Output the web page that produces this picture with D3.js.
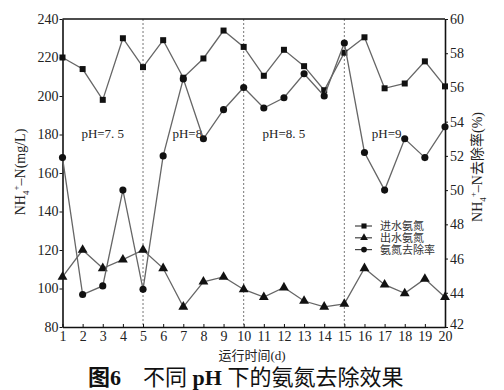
<!DOCTYPE html>
<html>
<head>
<meta charset="utf-8">
<script src="https://cdn.jsdelivr.net/npm/d3@7"></script>
<style>
  body { margin: 0; background: #fff; }
  text { font-family: "Liberation Serif", "DejaVu Serif", "Noto Sans CJK SC", serif; }
  .cjk { font-family: "Liberation Serif", "Noto Sans CJK SC", sans-serif; }
</style>
</head>
<body>
<div id="graphe"></div>
<script>
//----------------------------------------------------------------
//  Données
//----------------------------------------------------------------
var jours = d3.range(1, 21);
var entree = [220, 214, 198, 230, 215, 229, 209.5, 219.5, 234, 225.5, 210.5, 224, 215.5, 203, 222.5, 230.5, 204, 206.5, 218, 205];
var sortie = [106, 120, 110.5, 115, 120, 110.5, 90.5, 103.5, 106, 99.5, 95.5, 100.5, 93.5, 90.5, 92, 110.5, 102, 97.5, 105, 95.5];
var taux = [51.9, 43.9, 44.4, 50, 44.2, 52, 56.5, 53, 54.7, 56, 54.8, 55.4, 56.8, 55.5, 58.6, 52.2, 50, 53, 51.9, 53.7];
var ticksGauche = [80, 100, 120, 140, 160, 180, 200, 220, 240];
var ticksDroite = [42, 44, 46, 48, 50, 52, 54, 56, 58, 60];
var separations = [5, 10, 15];
var phLabels = [{t: "pH=7. 5", j: 3.0}, {t: "pH=8", j: 7.2}, {t: "pH=8. 5", j: 12.0}, {t: "pH=9", j: 17.1}];
var legende = ["进水氨氮", "出水氨氮", "氨氮去除率"];

//----------------------------------------------------------------
//  Création svg
//----------------------------------------------------------------
var largeurSvg = 504, hauteurSvg = 390;
var marges = {haut: 19, droite: 59, bas: 63, gauche: 62.5};
var largeur = largeurSvg - marges.gauche - marges.droite,
    hauteur = hauteurSvg - marges.haut - marges.bas;

var svg = d3.select("#graphe").append("svg")
    .attr("width", largeurSvg)
    .attr("height", hauteurSvg);
var g = svg.append("g")
    .attr("transform", "translate(" + marges.gauche + "," + marges.haut + ")");

var x = d3.scaleLinear().domain([1, 20]).range([0, largeur]);
var yG = d3.scaleLinear().domain([80, 240]).range([hauteur, 0]);
var yD = d3.scaleLinear().domain([42, 60]).range([hauteur, 0]);

// séparations pH
g.selectAll(".sep").data(separations).enter().append("line")
    .attr("x1", function(d) { return x(d); })
    .attr("x2", function(d) { return x(d); })
    .attr("y1", 0).attr("y2", hauteur)
    .attr("stroke", "#777").attr("stroke-width", 1)
    .attr("stroke-dasharray", "2,2");

g.selectAll(".ph").data(phLabels).enter().append("text")
    .attr("x", function(d) { return x(d.j); })
    .attr("y", yG(178))
    .attr("text-anchor", "middle")
    .attr("font-size", 13)
    .attr("fill", "#222")
    .text(function(d) { return d.t; });

// cadre haut
g.append("line").attr("x1", 0).attr("x2", largeur).attr("y1", 0).attr("y2", 0)
    .attr("stroke", "#111").attr("stroke-width", 1.6);

// axes
var axeX = g.append("g")
    .attr("transform", "translate(0," + hauteur + ")")
    .call(d3.axisBottom(x).tickValues(jours).tickFormat(d3.format("d")).tickSizeInner(-3).tickSizeOuter(0).tickPadding(4));
var axeG = g.append("g")
    .call(d3.axisLeft(yG).tickValues(ticksGauche).tickSize(3).tickSizeOuter(0).tickPadding(1));
var axeD = g.append("g")
    .attr("transform", "translate(" + largeur + ",0)")
    .call(d3.axisRight(yD).tickValues(ticksDroite).tickSize(3).tickSizeOuter(0).tickPadding(2));

[axeX, axeG, axeD].forEach(function(a) {
    a.select(".domain").attr("stroke", "#111").attr("stroke-width", 1.6);
    a.selectAll(".tick line").attr("stroke", "#111");
    a.selectAll(".tick text").attr("font-size", 14).attr("fill", "#222")
        .attr("font-family", "Liberation Serif, serif");
});
// le 42 remonte un peu pour ne pas toucher le 20
axeD.selectAll(".tick text").filter(function(d) { return d === 42; }).attr("dy", "0.1em");

//----------------------------------------------------------------
//  Courbes et marqueurs
//----------------------------------------------------------------
function tracer(valeurs, echelle, forme, taille) {
    var ligne = d3.line()
        .x(function(d, i) { return x(jours[i]); })
        .y(function(d) { return echelle(d); });
    g.append("path")
        .datum(valeurs)
        .attr("d", ligne)
        .attr("fill", "none")
        .attr("stroke", "#666")
        .attr("stroke-width", 1.3);
    g.append("g").selectAll("path").data(valeurs).enter().append("path")
        .attr("transform", function(d, i) { return "translate(" + x(jours[i]) + "," + echelle(d) + ")"; })
        .attr("d", d3.symbol().type(forme).size(taille))
        .attr("fill", "#111");
}
tracer(entree, yG, d3.symbolSquare, 36);
tracer(sortie, yG, d3.symbolTriangle, 42);
tracer(taux, yD, d3.symbolCircle, 40);

// légende
var formes = [d3.symbolSquare, d3.symbolTriangle, d3.symbolCircle];
var leg = svg.append("g").attr("transform", "translate(355,226)");
legende.forEach(function(t, i) {
    var l = leg.append("g").attr("transform", "translate(0," + (i * 11.8) + ")");
    l.append("line").attr("x1", 0).attr("x2", 17).attr("y1", 0).attr("y2", 0)
        .attr("stroke", "#444").attr("stroke-width", 1.2);
    l.append("path").attr("transform", "translate(9,0)")
        .attr("d", d3.symbol().type(formes[i]).size(26)).attr("fill", "#111");
    l.append("text").attr("class", "cjk").attr("x", 25).attr("y", 4)
        .attr("font-size", 11).attr("fill", "#333").text(t);
});

//----------------------------------------------------------------
//  Titres des axes
//----------------------------------------------------------------
var titreG = svg.append("text")
    .attr("transform", "translate(25,172) rotate(-90)")
    .attr("text-anchor", "middle")
    .attr("font-size", 14).attr("fill", "#222");
titreG.append("tspan").text("NH");
titreG.append("tspan").attr("font-size", 9).attr("dy", 4).text("4");
titreG.append("tspan").attr("font-size", 9).attr("dy", -10).text("+");
titreG.append("tspan").attr("dy", 6).text("–N(mg/L)");

var titreD = svg.append("text")
    .attr("transform", "translate(482,167) rotate(-90)")
    .attr("text-anchor", "middle")
    .attr("font-size", 14).attr("fill", "#222");
titreD.append("tspan").text("NH");
titreD.append("tspan").attr("font-size", 9).attr("dy", 4).text("4");
titreD.append("tspan").attr("font-size", 9).attr("dy", -10).text("+");
titreD.append("tspan").attr("dy", 6).text("–N");
titreD.append("tspan").attr("class", "cjk").attr("font-family", "Noto Sans CJK SC").text("去除率");
titreD.append("tspan").text("(%)");

svg.append("text").attr("class", "cjk")
    .attr("x", 252).attr("y", 360)
    .attr("text-anchor", "middle")
    .attr("font-size", 13).attr("fill", "#222")
    .text("运行时间(d)");

var titre = svg.append("text").attr("class", "cjk")
    .attr("x", 88).attr("y", 385)
    .attr("font-size", 22).attr("fill", "#111");
titre.append("tspan").attr("font-weight", "bold").text("图6");
titre.append("tspan").attr("x", 143).text("不同 ");
titre.append("tspan").attr("font-weight", "bold").attr("font-family", "Liberation Serif").text("pH");
titre.append("tspan").text(" 下的氨氮去除效果");
</script>
</body>
</html>
